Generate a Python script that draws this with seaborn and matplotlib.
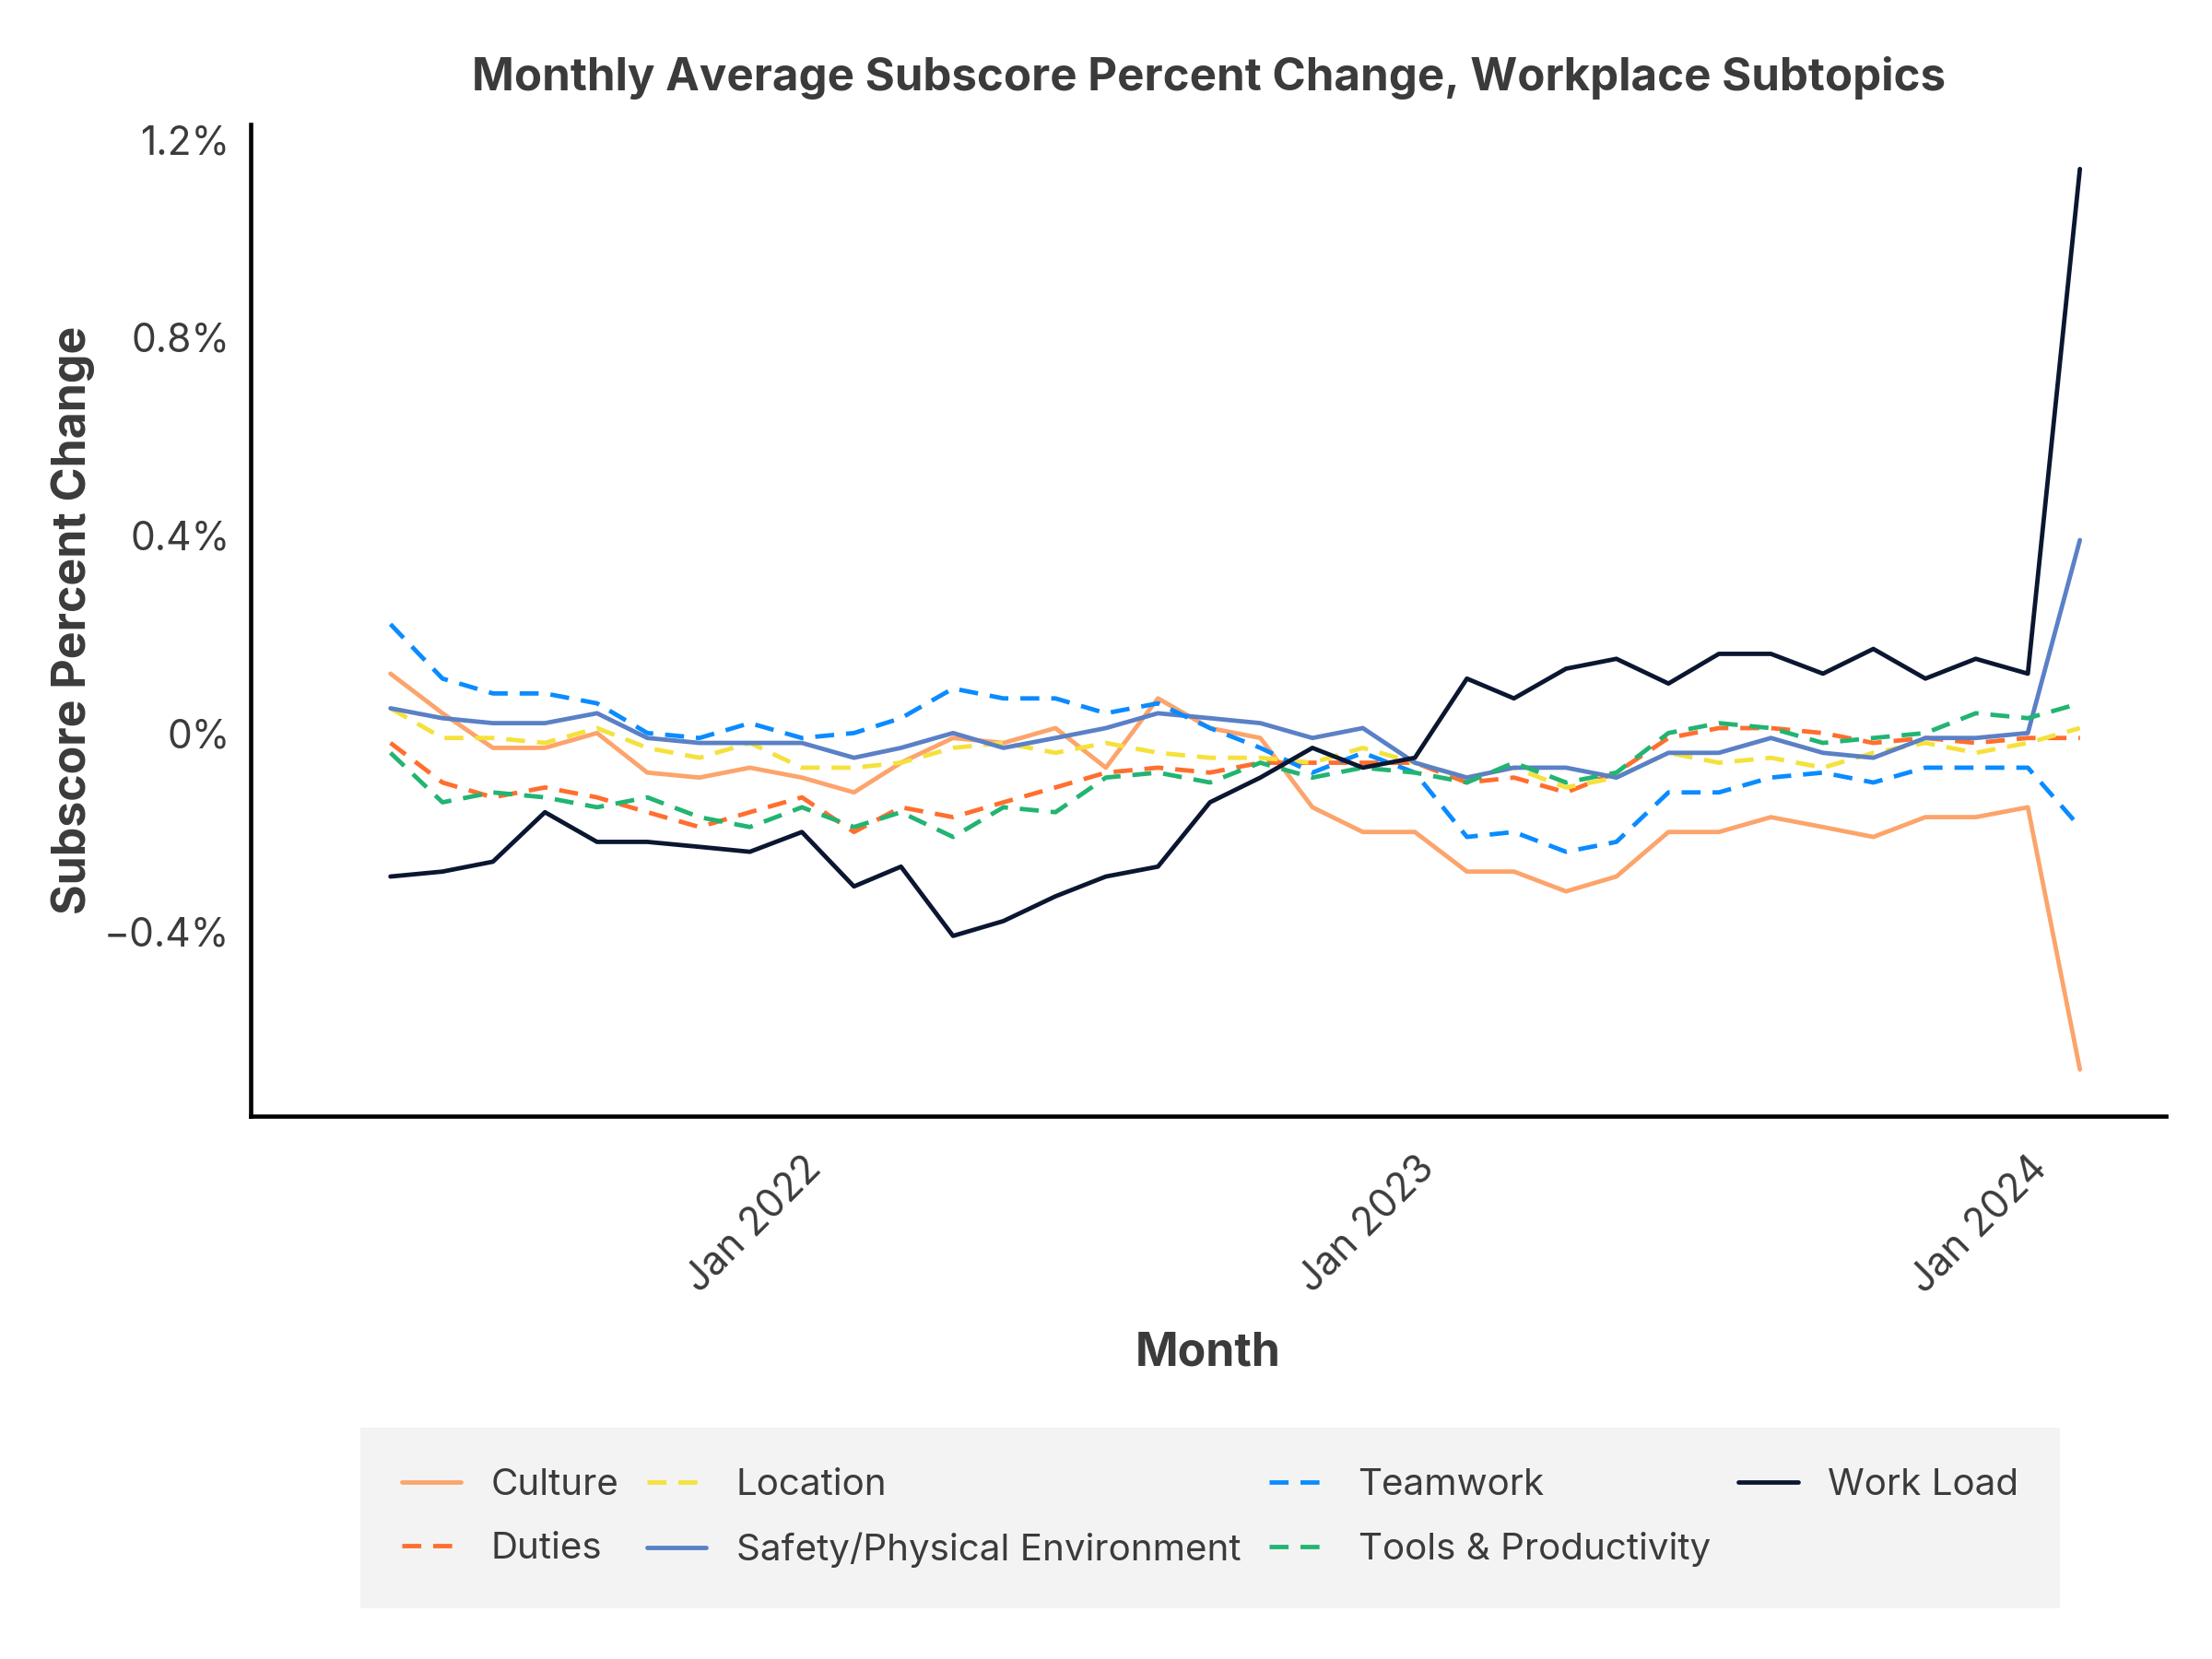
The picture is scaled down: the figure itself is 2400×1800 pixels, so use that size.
import pandas as pd
import matplotlib.pyplot as plt
import matplotlib.dates as mdates
from matplotlib.ticker import FuncFormatter, FixedLocator
import seaborn as sns

# monthly points, May 2021 .. Feb 2024 (values in percent)
months = pd.date_range("2021-05-01", "2024-02-01", freq="MS")

culture = [0.12, 0.04, -0.03, -0.03, 0.00, -0.08, -0.09, -0.07, -0.09, -0.12,
           -0.06, -0.01, -0.02, 0.01, -0.07, 0.07, 0.01, -0.01, -0.15, -0.20,
           -0.20, -0.28, -0.28, -0.32, -0.29, -0.20, -0.20, -0.17, -0.19, -0.21,
           -0.17, -0.17, -0.15, -0.68]
duties = [-0.02, -0.10, -0.13, -0.11, -0.13, -0.16, -0.19, -0.16, -0.13, -0.20,
          -0.15, -0.17, -0.14, -0.11, -0.08, -0.07, -0.08, -0.06, -0.06, -0.06,
          -0.06, -0.10, -0.09, -0.12, -0.08, -0.01, 0.01, 0.01, 0.00, -0.02,
          -0.01, -0.02, -0.01, -0.01]
location = [0.05, -0.01, -0.01, -0.02, 0.01, -0.03, -0.05, -0.02, -0.07, -0.07,
            -0.06, -0.03, -0.02, -0.04, -0.02, -0.04, -0.05, -0.05, -0.06, -0.03,
            -0.06, -0.09, -0.07, -0.11, -0.09, -0.04, -0.06, -0.05, -0.07, -0.04,
            -0.02, -0.04, -0.02, 0.01]
safety = [0.05, 0.03, 0.02, 0.02, 0.04, -0.01, -0.02, -0.02, -0.02, -0.05,
          -0.03, 0.00, -0.03, -0.01, 0.01, 0.04, 0.03, 0.02, -0.01, 0.01,
          -0.06, -0.09, -0.07, -0.07, -0.09, -0.04, -0.04, -0.01, -0.04, -0.05,
          -0.01, -0.01, 0.00, 0.39]
teamwork = [0.22, 0.11, 0.08, 0.08, 0.06, 0.00, -0.01, 0.02, -0.01, 0.00,
            0.03, 0.09, 0.07, 0.07, 0.04, 0.06, 0.01, -0.03, -0.08, -0.04,
            -0.08, -0.21, -0.20, -0.24, -0.22, -0.12, -0.12, -0.09, -0.08, -0.10,
            -0.07, -0.07, -0.07, -0.19]
tools = [-0.04, -0.14, -0.12, -0.13, -0.15, -0.13, -0.17, -0.19, -0.15, -0.19,
         -0.16, -0.21, -0.15, -0.16, -0.09, -0.08, -0.10, -0.06, -0.09, -0.07,
         -0.08, -0.10, -0.06, -0.10, -0.08, 0.00, 0.02, 0.01, -0.02, -0.01,
         0.00, 0.04, 0.03, 0.06]
work_load = [-0.29, -0.28, -0.26, -0.16, -0.22, -0.22, -0.23, -0.24, -0.20, -0.31,
             -0.27, -0.41, -0.38, -0.33, -0.29, -0.27, -0.14, -0.09, -0.03, -0.07,
             -0.05, 0.11, 0.07, 0.13, 0.15, 0.10, 0.16, 0.16, 0.12, 0.17,
             0.11, 0.15, 0.12, 1.14]

subtopics = ["Culture", "Duties", "Location", "Safety/Physical Environment",
             "Teamwork", "Tools & Productivity", "Work Load"]
series = [culture, duties, location, safety, teamwork, tools, work_load]

palette = {
    "Culture": "#FCA46B",
    "Duties": "#FF6E2E",
    "Location": "#F5E13C",
    "Safety/Physical Environment": "#5A80C6",
    "Teamwork": "#0A8BFF",
    "Tools & Productivity": "#22B472",
    "Work Load": "#0B1631",
}
dash = (4.3, 2.7)
dashes = {
    "Culture": "",
    "Duties": dash,
    "Location": dash,
    "Safety/Physical Environment": "",
    "Teamwork": dash,
    "Tools & Productivity": dash,
    "Work Load": "",
}

df = pd.concat([
    pd.DataFrame({"Month": months, "Change": vals, "Subtopic": name})
    for name, vals in zip(subtopics, series)
], ignore_index=True)

sns.set_theme(style="white")
plt.rcParams["font.family"] = ["Inter", "DejaVu Sans"]
text_col = "#3b3b3b"

fig, ax = plt.subplots(figsize=(8, 6), dpi=300)
fig.subplots_adjust(left=0.1135, right=0.979, top=0.925, bottom=0.327)

sns.lineplot(data=df, x="Month", y="Change", hue="Subtopic", style="Subtopic",
             hue_order=subtopics, style_order=subtopics, palette=palette,
             dashes=dashes, linewidth=1.15, ax=ax)

handles, labels = ax.get_legend_handles_labels()
ax.get_legend().remove()

ax.set_ylim(-0.775, 1.23)
ax.yaxis.set_major_locator(FixedLocator([-0.4, 0.0, 0.4, 0.8, 1.2]))
ax.yaxis.set_major_formatter(FuncFormatter(
    lambda v, _: ("%g%%" % round(v, 1)).replace("-", "\u2212")))

ax.set_xlim(pd.Timestamp("2021-02-07"), pd.Timestamp("2024-03-23"))
ax.xaxis.set_major_locator(mdates.YearLocator())
ax.xaxis.set_major_formatter(mdates.DateFormatter("%b %Y"))
plt.setp(ax.get_xticklabels(), rotation=45, ha="right", rotation_mode="anchor")

for side in ["top", "right"]:
    ax.spines[side].set_visible(False)
for side in ["left", "bottom"]:
    ax.spines[side].set_color("black")
    ax.spines[side].set_linewidth(1.1)

ax.tick_params(axis="both", colors="#bbbbbb", labelcolor=text_col, labelsize=10.2,
               width=0.8)
ax.tick_params(axis="y", length=2.5, pad=3)
ax.tick_params(axis="x", length=3.5, pad=5)

ax.set_title("Monthly Average Subscore Percent Change, Workplace Subtopics",
             fontsize=11.8, fontweight="bold", color=text_col, pad=9)
ax.set_xlabel("Month", fontsize=12, fontweight="bold", color=text_col, labelpad=8)
ax.set_ylabel("Subscore Percent Change", fontsize=12, fontweight="bold",
              color=text_col, labelpad=2.5)

leg = fig.legend(handles, labels, loc="center", bbox_to_anchor=(0.547, 0.085),
                 ncol=4, frameon=True, facecolor="#f0f0f0", edgecolor="none",
                 fancybox=False, fontsize=9.7, handlelength=1.6,
                 handletextpad=0.8, columnspacing=0.75, borderpad=1.1,
                 labelspacing=0.8)
for t in leg.get_texts():
    t.set_color(text_col)

fig.savefig("out.png", dpi=300)
